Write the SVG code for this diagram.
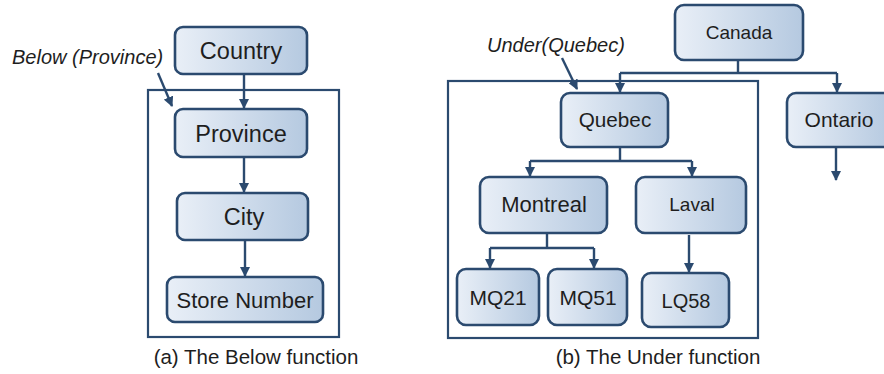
<svg xmlns="http://www.w3.org/2000/svg" width="884" height="374" viewBox="0 0 884 374">
  <defs>
    <linearGradient id="boxFill" x1="0" y1="0" x2="1" y2="0">
      <stop offset="0" stop-color="#e9eff7"/>
      <stop offset="1" stop-color="#b5c9e0"/>
    </linearGradient>
    <marker id="arrow" viewBox="0 0 10 10" refX="9" refY="5" markerWidth="4.2" markerHeight="4.2" orient="auto" markerUnits="strokeWidth">
      <path d="M0,0 L10,5 L0,10 Z" fill="#2b4a6f"/>
    </marker>
    <style>
      .node rect { fill: url(#boxFill); stroke: #2b4a6f; stroke-width: 2.6; }
      .node text { font-family: "Liberation Sans", Arial, sans-serif; font-size: 21px; fill: #1e1e1e; text-anchor: middle; }
      .big text { font-size: 23.5px; }
      .frame { fill: none; stroke: #2b4a6f; stroke-width: 2.2; }
      .conn path { fill: none; stroke: #2b4a6f; stroke-width: 2.4; }
      .conn path.arr { marker-end: url(#arrow); }
      .label { font-family: "Liberation Sans", Arial, sans-serif; font-style: italic; font-size: 20px; fill: #1e1e1e; }
      .caption { font-family: "Liberation Sans", Arial, sans-serif; font-size: 20.5px; fill: #1e1e1e; text-anchor: middle; }
    </style>
  </defs>
  <rect width="884" height="374" fill="#ffffff"/>

  <!-- frames -->
  <rect class="frame" x="148" y="90" width="191" height="247"/>
  <rect class="frame" x="448" y="81" width="310" height="257"/>

  <!-- connectors -->
  <g id="connectors" class="conn">
    <path class="arr" d="M244,74 V108"/>
    <path class="arr" d="M244,157 V192"/>
    <path class="arr" d="M245,240 V276"/>
    <path class="arr" d="M158,73 L172,106"/>

    <path d="M738,60 V73 M620,73 H837"/>
    <path class="arr" d="M620,73 V92"/>
    <path class="arr" d="M837,73 V92"/>
    <path class="arr" d="M836,147 V180"/>
    <path d="M620,147 V161 M530,161 H692"/>
    <path class="arr" d="M530,161 V176"/>
    <path class="arr" d="M692,161 V176"/>
    <path d="M547,233 V248 M490,248 H594"/>
    <path class="arr" d="M490,248 V268"/>
    <path class="arr" d="M594,248 V268"/>
    <path class="arr" d="M689,235 V272"/>
    <path class="arr" d="M562,58 L577,89"/>
  </g>

  <!-- (a) hierarchy -->
  <g id="country" class="node big"><rect x="175" y="27" width="132" height="47" rx="8"/><text x="241" y="59">Country</text></g>
  <g id="province" class="node big"><rect x="175" y="109" width="132" height="48" rx="8"/><text x="241" y="142">Province</text></g>
  <g id="city" class="node big"><rect x="177" y="193" width="131" height="47" rx="8"/><text x="244" y="225">City</text></g>
  <g id="store-number" class="node"><rect x="167" y="277" width="156" height="45" rx="8"/><text x="245" y="308" style="font-size:22px">Store Number</text></g>
  <text class="label" x="12" y="64">Below (Province)</text>
  <text class="caption" x="256" y="364">(a) The Below function</text>

  <!-- (b) instances -->
  <g id="canada" class="node"><rect x="675" y="5" width="128" height="55" rx="9"/><text x="739" y="39" style="font-size:19px">Canada</text></g>
  <g id="quebec" class="node"><rect x="561" y="93" width="107" height="54" rx="9"/><text x="615" y="127" style="font-size:20.7px">Quebec</text></g>
  <g id="ontario" class="node"><rect x="787" y="93" width="105" height="54" rx="9"/><text x="839" y="127">Ontario</text></g>
  <g id="montreal" class="node"><rect x="480" y="177" width="127" height="56" rx="9"/><text x="544" y="212" style="font-size:22px">Montreal</text></g>
  <g id="laval" class="node"><rect x="636" y="177" width="110" height="56" rx="9"/><text x="692" y="211" style="font-size:19px">Laval</text></g>
  <g id="mq21" class="node"><rect x="457" y="269" width="82" height="56" rx="9"/><text x="498" y="305">MQ21</text></g>
  <g id="mq51" class="node"><rect x="548" y="269" width="79" height="56" rx="9"/><text x="588" y="305">MQ51</text></g>
  <g id="lq58" class="node"><rect x="642" y="273" width="87" height="54" rx="9"/><text x="686" y="308" style="font-size:20px">LQ58</text></g>
  <text class="label" x="487" y="52">Under(Quebec)</text>
  <text class="caption" x="658" y="364">(b) The Under function</text>
</svg>
